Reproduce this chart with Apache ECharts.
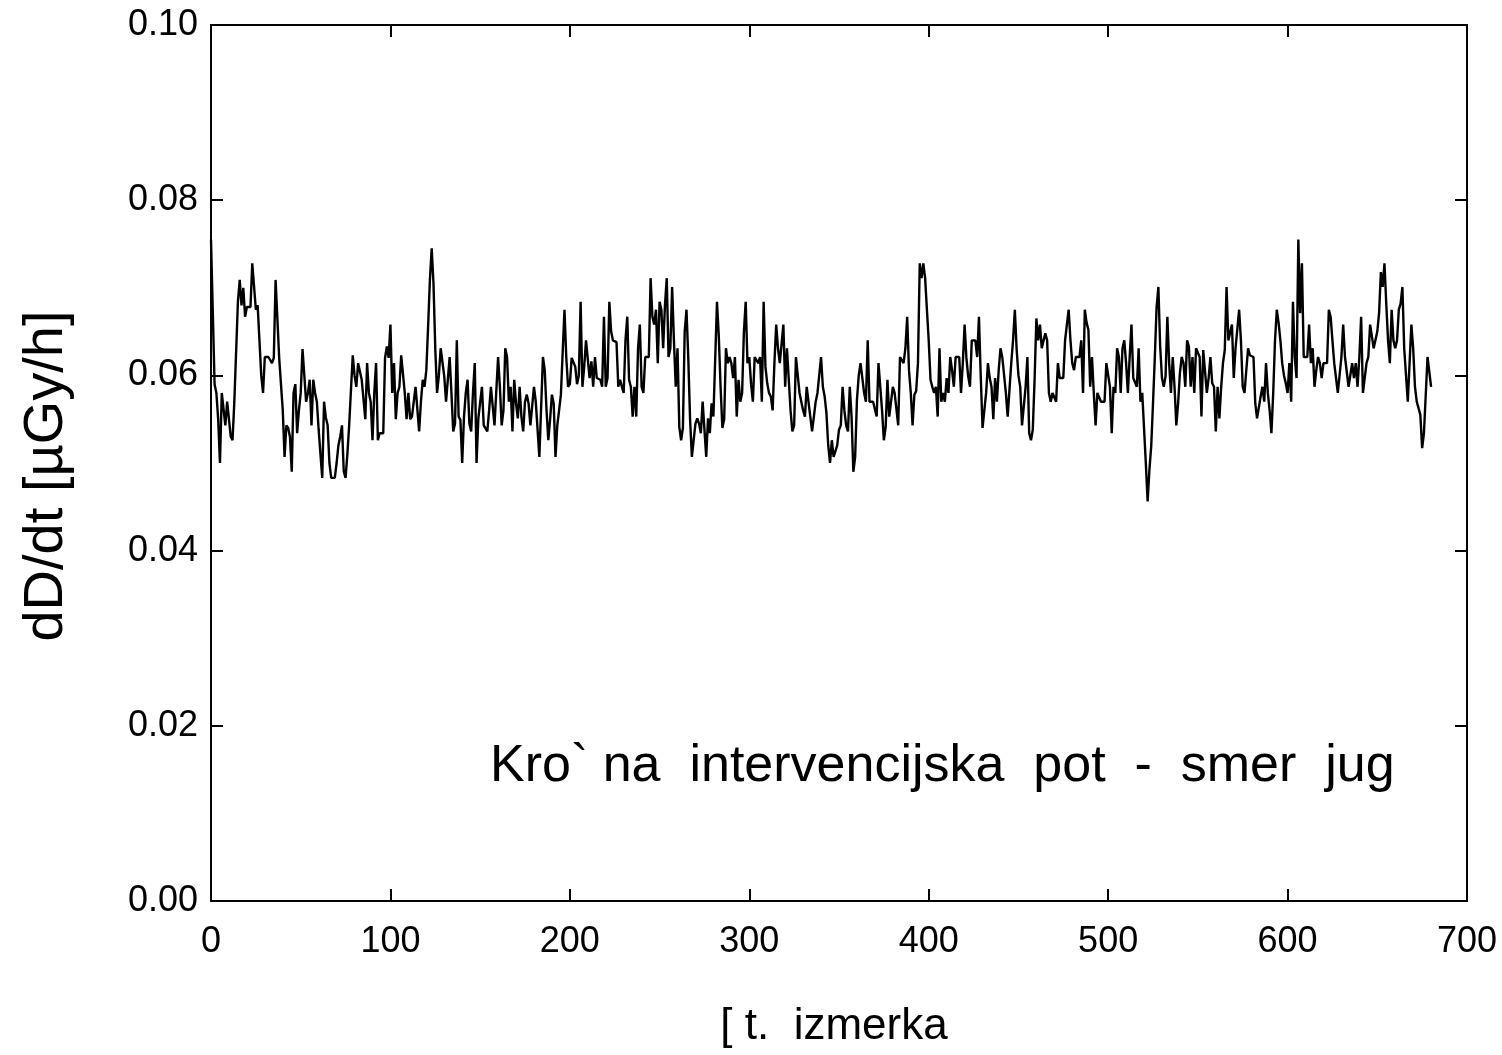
<!DOCTYPE html>
<html><head><meta charset="utf-8">
<script src="https://cdn.jsdelivr.net/npm/echarts@6/dist/echarts.min.js"></script>
<style>html,body{margin:0;padding:0;background:#fff}#c{width:1502px;height:1055px}</style>
</head><body><div id="c"></div>
<script>
const xTicks = [0, 100, 200, 300, 400, 500, 600, 700];
const yTicks = ["0.00", "0.02", "0.04", "0.06", "0.08", "0.10"];
const xTitle = "[ t.  izmerka";
const yTitle = "dD/dt [µGy/h]";
const noteText = "Kro` na  intervencijska  pot  -  smer  jug";
const doseRate = [
0.0755,0.0755,0.0590,0.0580,0.0550,0.0500,0.0580,0.0580,0.0543,0.0570,
0.0550,0.0530,0.0526,0.0570,0.0570,0.0684,0.0709,0.0680,0.0700,0.0667,
0.0678,0.0678,0.0678,0.0728,0.0728,0.0675,0.0680,0.0640,0.0600,0.0580,
0.0621,0.0621,0.0621,0.0621,0.0614,0.0620,0.0709,0.0709,0.0620,0.0620,
0.0560,0.0507,0.0543,0.0540,0.0530,0.0490,0.0580,0.0590,0.0534,0.0560,
0.0580,0.0630,0.0600,0.0570,0.0580,0.0595,0.0543,0.0595,0.0580,0.0570,
0.0538,0.0510,0.0483,0.0570,0.0552,0.0543,0.0500,0.0483,0.0483,0.0483,
0.0500,0.0520,0.0530,0.0543,0.0490,0.0483,0.0510,0.0543,0.0543,0.0623,
0.0600,0.0587,0.0614,0.0614,0.0595,0.0595,0.0550,0.0614,0.0580,0.0570,
0.0526,0.0580,0.0614,0.0526,0.0534,0.0534,0.0534,0.0620,0.0633,0.0620,
0.0658,0.0580,0.0614,0.0550,0.0580,0.0587,0.0623,0.0623,0.0580,0.0550,
0.0580,0.0550,0.0553,0.0570,0.0587,0.0587,0.0536,0.0570,0.0595,0.0587,
0.0606,0.0656,0.0709,0.0745,0.0705,0.0630,0.0580,0.0600,0.0631,0.0631,
0.0599,0.0570,0.0570,0.0621,0.0580,0.0536,0.0545,0.0640,0.0553,0.0549,
0.0500,0.0553,0.0580,0.0595,0.0545,0.0536,0.0580,0.0614,0.0500,0.0551,
0.0551,0.0587,0.0543,0.0541,0.0536,0.0560,0.0587,0.0587,0.0543,0.0545,
0.0621,0.0587,0.0543,0.0560,0.0631,0.0621,0.0570,0.0587,0.0536,0.0595,
0.0568,0.0551,0.0587,0.0553,0.0536,0.0570,0.0578,0.0568,0.0543,0.0543,
0.0587,0.0570,0.0568,0.0507,0.0507,0.0621,0.0606,0.0560,0.0526,0.0550,
0.0578,0.0568,0.0507,0.0543,0.0560,0.0578,0.0580,0.0675,0.0621,0.0587,
0.0590,0.0620,0.0620,0.0610,0.0590,0.0600,0.0684,0.0587,0.0610,0.0640,
0.0638,0.0597,0.0616,0.0587,0.0621,0.0597,0.0595,0.0595,0.0587,0.0667,
0.0587,0.0597,0.0684,0.0650,0.0640,0.0638,0.0638,0.0587,0.0595,0.0587,
0.0580,0.0640,0.0667,0.0595,0.0587,0.0553,0.0587,0.0553,0.0631,0.0658,
0.0587,0.0580,0.0621,0.0619,0.0621,0.0711,0.0667,0.0658,0.0675,0.0614,
0.0684,0.0675,0.0631,0.0680,0.0711,0.0621,0.0631,0.0701,0.0640,0.0587,
0.0631,0.0541,0.0526,0.0540,0.0650,0.0675,0.0620,0.0550,0.0507,0.0526,
0.0545,0.0551,0.0545,0.0534,0.0570,0.0570,0.0507,0.0551,0.0534,0.0568,
0.0553,0.0553,0.0684,0.0645,0.0587,0.0540,0.0550,0.0631,0.0614,0.0621,
0.0614,0.0597,0.0621,0.0553,0.0595,0.0570,0.0580,0.0650,0.0684,0.0614,
0.0621,0.0590,0.0570,0.0621,0.0621,0.0614,0.0621,0.0570,0.0684,0.0610,
0.0591,0.0580,0.0576,0.0560,0.0614,0.0658,0.0631,0.0614,0.0614,0.0658,
0.0587,0.0631,0.0629,0.0560,0.0536,0.0543,0.0621,0.0621,0.0580,0.0580,
0.0560,0.0553,0.0587,0.0587,0.0553,0.0536,0.0553,0.0570,0.0580,0.0580,
0.0621,0.0587,0.0576,0.0557,0.0520,0.0500,0.0526,0.0507,0.0507,0.0520,
0.0538,0.0543,0.0587,0.0560,0.0543,0.0536,0.0587,0.0553,0.0490,0.0507,
0.0572,0.0600,0.0614,0.0614,0.0580,0.0570,0.0640,0.0570,0.0570,0.0570,
0.0568,0.0553,0.0614,0.0587,0.0560,0.0526,0.0541,0.0595,0.0553,0.0553,
0.0587,0.0580,0.0580,0.0543,0.0621,0.0621,0.0614,0.0631,0.0667,0.0606,
0.0580,0.0543,0.0578,0.0582,0.0614,0.0728,0.0711,0.0728,0.0711,0.0675,
0.0640,0.0595,0.0587,0.0580,0.0587,0.0553,0.0631,0.0570,0.0580,0.0570,
0.0597,0.0580,0.0621,0.0606,0.0587,0.0621,0.0621,0.0621,0.0580,0.0614,
0.0658,0.0620,0.0599,0.0587,0.0640,0.0640,0.0640,0.0621,0.0667,0.0599,
0.0540,0.0540,0.0580,0.0614,0.0597,0.0587,0.0550,0.0597,0.0570,0.0606,
0.0631,0.0621,0.0621,0.0580,0.0553,0.0553,0.0614,0.0640,0.0675,0.0630,
0.0600,0.0587,0.0543,0.0543,0.0587,0.0621,0.0534,0.0526,0.0538,0.0595,
0.0665,0.0640,0.0658,0.0631,0.0640,0.0648,0.0640,0.0580,0.0570,0.0580,
0.0580,0.0570,0.0614,0.0597,0.0597,0.0597,0.0640,0.0658,0.0675,0.0640,
0.0614,0.0606,0.0621,0.0621,0.0621,0.0640,0.0580,0.0675,0.0660,0.0652,
0.0587,0.0621,0.0580,0.0543,0.0580,0.0580,0.0570,0.0570,0.0570,0.0614,
0.0614,0.0587,0.0534,0.0587,0.0580,0.0631,0.0621,0.0580,0.0631,0.0640,
0.0614,0.0580,0.0621,0.0658,0.0597,0.0595,0.0587,0.0631,0.0570,0.0580,
0.0580,0.0500,0.0456,0.0492,0.0519,0.0568,0.0620,0.0678,0.0701,0.0633,
0.0597,0.0587,0.0599,0.0667,0.0614,0.0580,0.0621,0.0587,0.0543,0.0568,
0.0603,0.0621,0.0614,0.0587,0.0640,0.0633,0.0587,0.0621,0.0580,0.0631,
0.0629,0.0621,0.0553,0.0629,0.0631,0.0580,0.0597,0.0621,0.0591,0.0587,
0.0536,0.0587,0.0551,0.0587,0.0614,0.0629,0.0701,0.0640,0.0640,0.0658,
0.0597,0.0631,0.0633,0.0675,0.0640,0.0587,0.0580,0.0606,0.0631,0.0623,
0.0621,0.0621,0.0568,0.0551,0.0551,0.0576,0.0587,0.0570,0.0614,0.0580,
0.0560,0.0534,0.0580,0.0640,0.0675,0.0660,0.0640,0.0614,0.0600,0.0591,
0.0580,0.0614,0.0570,0.0684,0.0621,0.0597,0.0755,0.0671,0.0728,0.0621,
0.0621,0.0621,0.0658,0.0614,0.0631,0.0587,0.0606,0.0621,0.0614,0.0597,
0.0614,0.0614,0.0614,0.0675,0.0667,0.0640,0.0614,0.0614,0.0580,0.0580,
0.0621,0.0658,0.0621,0.0621,0.0587,0.0587,0.0614,0.0597,0.0614,0.0587,
0.0621,0.0667,0.0580,0.0580,0.0614,0.0621,0.0658,0.0656,0.0631,0.0631,
0.0650,0.0671,0.0718,0.0701,0.0728,0.0682,0.0640,0.0614,0.0675,0.0640,
0.0631,0.0640,0.0675,0.0682,0.0701,0.0631,0.0631,0.0570,0.0614,0.0658,
0.0631,0.0587,0.0570,0.0570,0.0555,0.0517,0.0534,0.0536,0.0621,0.0621,
0.0587
];

const FONT = "'Liberation Sans', Arial, sans-serif";
const xMin = xTicks[0], xMax = xTicks[xTicks.length - 1], xStep = xTicks[1] - xTicks[0];
const yMin = parseFloat(yTicks[0]), yMax = parseFloat(yTicks[yTicks.length - 1]);
const yStep = parseFloat(yTicks[1]) - parseFloat(yTicks[0]);

const lineSt = { color: '#000', width: 2 };
function xAxisDef(pos, showLabel) {
  return {
    type: 'value', position: pos, min: xMin, max: xMax, interval: xStep,
    axisLine: { show: true, onZero: false, lineStyle: lineSt },
    axisTick: { show: true, inside: true, length: 12, lineStyle: lineSt },
    axisLabel: { show: showLabel, fontSize: 36, color: '#000', fontFamily: FONT, margin: 23 },
    splitLine: { show: false }
  };
}
function yAxisDef(pos, showLabel) {
  return {
    type: 'value', position: pos, min: yMin, max: yMax, interval: yStep,
    axisLine: { show: true, onZero: false, lineStyle: lineSt },
    axisTick: { show: true, inside: true, length: 12, lineStyle: lineSt },
    axisLabel: { show: showLabel, fontSize: 36, color: '#000', fontFamily: FONT, margin: 13,
      formatter: v => v.toFixed(2) },
    splitLine: { show: false }
  };
}
const xa0 = xAxisDef('bottom', true);
xa0.name = xTitle; xa0.nameLocation = 'middle'; xa0.nameGap = 104;
xa0.nameTextStyle = { fontSize: 44, color: '#000', fontFamily: FONT, padding: [0, 10, 0, 0] };
const ya0 = yAxisDef('left', true);
ya0.name = yTitle; ya0.nameLocation = 'middle'; ya0.nameGap = 136;
ya0.nameTextStyle = { fontSize: 56, color: '#000', fontFamily: FONT, padding: [0, 26, 0, 0] };

const chart = echarts.init(document.getElementById('c'), null, { renderer: 'canvas' });
chart.setOption({
  animation: false,
  backgroundColor: '#fff',
  grid: { left: 211, right: 35, top: 25, bottom: 154, containLabel: false },
  xAxis: [xa0, xAxisDef('top', false)],
  yAxis: [ya0, yAxisDef('right', false)],
  series: [{
    type: 'line', xAxisIndex: 0, yAxisIndex: 0,
    data: doseRate.map((v, i) => [i, v]),
    showSymbol: false, symbol: 'none',
    lineStyle: { color: '#000', width: 2.4 },
    silent: true
  }],
  graphic: [{
    type: 'text', left: 490, top: 741,
    style: { text: noteText, font: "52px " + FONT, fill: '#000' }
  }]
});
</script>
</body></html>
